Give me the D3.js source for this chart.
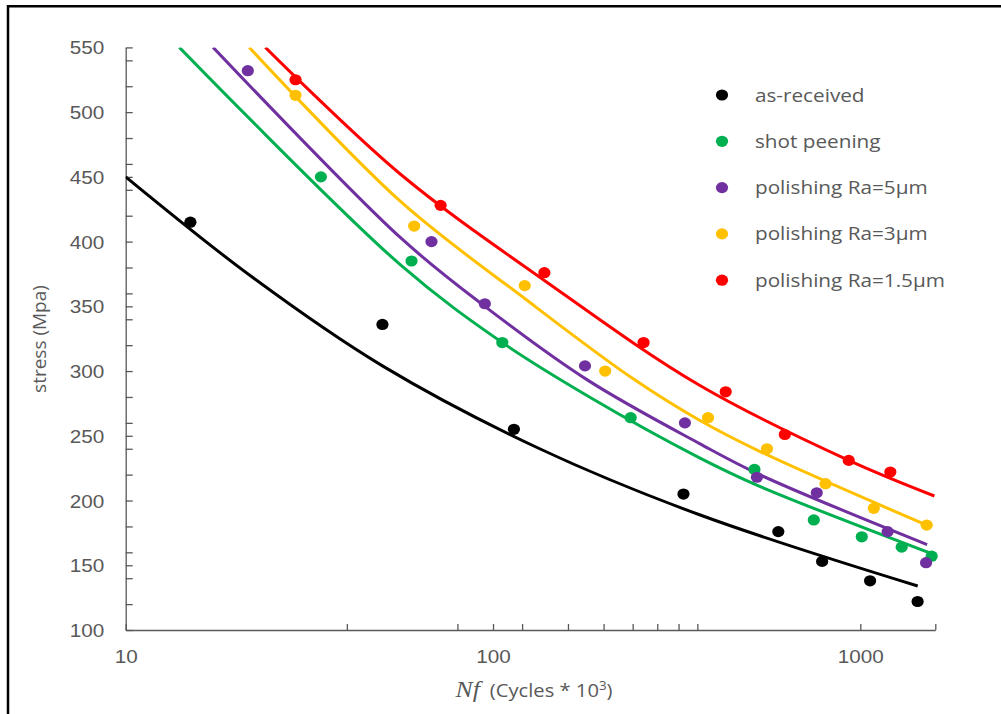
<!DOCTYPE html>
<html>
<head>
<meta charset="utf-8">
<script src="https://cdn.jsdelivr.net/npm/d3@7"></script>
<style>
  body { margin: 0; background: #fff; }
  svg { display: block; font-family: "Open Sans", sans-serif; }
</style>
</head>
<body>
<svg></svg>
<script>
const width = 1001;
const height = 714;

// measured points (N in thousand cycles, stress in MPa)
const asReceivedN = [15, 50, 114, 330, 598, 787, 1063, 1432];
const asReceivedS = [415, 336, 255, 205, 176, 153, 138, 122];
const shotPeeningN = [34, 60, 106, 237, 515, 747, 1009, 1296, 1564];
const shotPeeningS = [450, 385, 322, 264, 224, 185, 172, 164, 157];
const polish5N = [21.5, 68, 95, 178, 333, 523, 761, 1187, 1510];
const polish5S = [532, 400, 352, 304, 260, 218, 206, 176, 152];
const polish3N = [29, 61, 122, 202, 385, 557, 804, 1088, 1516];
const polish3S = [513, 412, 366, 300, 264, 240, 213, 194, 181];
const polish15N = [29, 72, 138, 257, 430, 623, 930, 1207];
const polish15S = [525, 428, 376, 322, 284, 251, 231, 222];

// trend lines
const trendAsReceivedN = [10, 22, 50, 134, 365, 1433];
const trendAsReceivedS = [450, 373, 304, 240, 189, 134];
const trendShotN = [14, 56, 106, 183, 365, 532, 1564];
const trendShotS = [550, 382, 322, 280, 233, 211, 159];
const trendPolish5N = [17.3, 56, 95, 181, 365, 532, 1520];
const trendPolish5S = [550, 403, 350, 293, 244, 220, 166];
const trendPolish3N = [21.7, 56, 122, 238, 365, 532, 1516];
const trendPolish3S = [550, 431, 356, 295, 262, 238, 181];
const trendPolish15N = [24, 56, 138, 365, 930, 1591];
const trendPolish15S = [550, 452, 370, 289, 231, 203.5];

const seriesNames = ['as-received', 'shot peening', 'polishing Ra=5\u00b5m', 'polishing Ra=3\u00b5m', 'polishing Ra=1.5\u00b5m'];
const seriesColors = ['#000000', '#00b050', '#7030a0', '#ffc000', '#ff0000'];

const xTickValues = [10, 40, 80, 100, 120, 160, 200, 240, 280, 320, 360, 1000, 1600];
const xLabelValues = [10, 100, 1000];
const yTickValues = [100, 120, 140, 150, 160, 180, 200, 220, 240, 250, 260, 280, 300, 320, 340, 350, 360, 380,
    400, 420, 440, 450, 460, 480, 500, 520, 540, 550];
const yLabelValues = [100, 150, 200, 250, 300, 350, 400, 450, 500, 550];

const series = [
    { pts: d3.zip(asReceivedN, asReceivedS), trend: d3.zip(trendAsReceivedN, trendAsReceivedS) },
    { pts: d3.zip(shotPeeningN, shotPeeningS), trend: d3.zip(trendShotN, trendShotS) },
    { pts: d3.zip(polish5N, polish5S), trend: d3.zip(trendPolish5N, trendPolish5S) },
    { pts: d3.zip(polish3N, polish3S), trend: d3.zip(trendPolish3N, trendPolish3S) },
    { pts: d3.zip(polish15N, polish15S), trend: d3.zip(trendPolish15N, trendPolish15S) }
];

const textColor = '#595959';
const stretch = 'scale(1.12,1)';

const svg = d3.select('svg')
    .attr('width', width)
    .attr('height', height);

const x = d3.scaleLog().domain([10, 1600]).range([125.7, 935.3]);
const y = d3.scaleLinear().domain([100, 550]).range([630, 47.4]);

// frame
svg.append('path')
    .attr('d', 'M8,' + height + 'V6.2H' + width)
    .attr('fill', 'none')
    .attr('stroke', '#000')
    .attr('stroke-width', 2.5);

svg.append('clipPath')
    .attr('id', 'plot-clip')
    .append('rect')
    .attr('x', x.range()[0])
    .attr('y', y.range()[1])
    .attr('width', x.range()[1] - x.range()[0] + 10)
    .attr('height', y.range()[0] - y.range()[1]);

// axes
const yAxis = d3.axisLeft(y)
    .tickValues(yTickValues)
    .tickSizeInner(-7)
    .tickSizeOuter(0)
    .tickFormat((d) => yLabelValues.includes(d) ? d : '');

const gy = svg.append('g')
    .attr('transform', 'translate(' + x.range()[0] + ',0)')
    .call(yAxis);
gy.selectAll('text')
    .attr('x', 0)
    .attr('dy', null)
    .attr('transform', 'translate(-21.5,6.5) ' + stretch)
    .style('font-size', '18.5px')
    .attr('fill', textColor);

const xAxis = d3.axisBottom(x)
    .tickValues(xTickValues)
    .tickSizeInner(-6)
    .tickSizeOuter(0)
    .tickFormat((d) => xLabelValues.includes(d) ? d : '');

const gx = svg.append('g')
    .attr('transform', 'translate(0,' + y.range()[0] + ')')
    .call(xAxis);
gx.selectAll('text')
    .attr('y', 0)
    .attr('dy', null)
    .attr('transform', 'translate(0,33) ' + stretch)
    .style('font-size', '18.5px')
    .attr('fill', textColor);

svg.selectAll('.domain, .tick line')
    .attr('stroke', '#595959')
    .attr('stroke-width', 1.3);

// axis titles
svg.append('text')
    .attr('transform', 'translate(46,339) rotate(-90)')
    .attr('text-anchor', 'middle')
    .style('font-size', '19px')
    .attr('fill', textColor)
    .text('stress (Mpa)');

const xTitle = svg.append('text')
    .attr('transform', 'translate(534,697) ' + stretch)
    .attr('text-anchor', 'middle')
    .style('font-size', '18px')
    .attr('fill', textColor);
xTitle.append('tspan')
    .style('font-family', '"Liberation Serif", serif')
    .style('font-style', 'italic')
    .style('font-size', '23px')
    .text('Nf');
xTitle.append('tspan')
    .attr('dx', 9)
    .text('(Cycles * 10');
xTitle.append('tspan')
    .attr('dy', -7)
    .style('font-size', '12px')
    .text('3');
xTitle.append('tspan')
    .attr('dy', 7)
    .text(')');

// trend lines
const line = d3.line()
    .x((d) => x(d[0]))
    .y((d) => y(d[1]))
    .curve(d3.curveCatmullRom);

const plot = svg.append('g').attr('clip-path', 'url(#plot-clip)');

plot.selectAll('path.trend')
    .data(series)
    .enter()
    .append('path')
    .attr('class', 'trend')
    .attr('d', (d) => line(d.trend))
    .attr('fill', 'none')
    .attr('stroke', (d, i) => seriesColors[i])
    .attr('stroke-width', 3);

// points
series.forEach((s, i) => {
    svg.append('g')
        .selectAll('ellipse')
        .data(s.pts)
        .enter()
        .append('ellipse')
        .attr('cx', (d) => x(d[0]))
        .attr('cy', (d) => y(d[1]))
        .attr('rx', 6.1)
        .attr('ry', 5.6)
        .attr('fill', seriesColors[i]);
});

// legend
const legend = svg.append('g');
const legendRow = legend.selectAll('g')
    .data(seriesNames)
    .enter()
    .append('g')
    .attr('transform', (d, i) => 'translate(722,' + (95 + i * 46.3) + ')');
legendRow.append('ellipse')
    .attr('rx', 6.1)
    .attr('ry', 5.6)
    .attr('fill', (d, i) => seriesColors[i]);
legendRow.append('text')
    .attr('transform', 'translate(33,6.5) ' + stretch)
    .style('font-size', '18.5px')
    .attr('fill', textColor)
    .text((d) => d);
</script>
</body>
</html>
